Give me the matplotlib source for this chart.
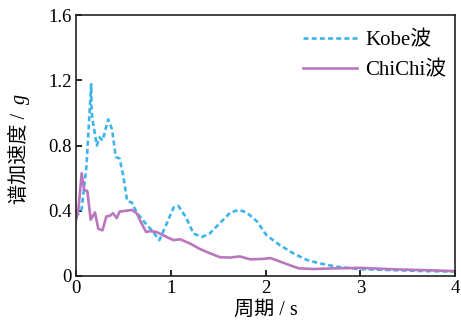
import matplotlib
matplotlib.use('Agg')
import matplotlib.pyplot as plt

plt.rcParams['font.family'] = ['Liberation Serif', 'Noto Sans CJK SC']
plt.rcParams['font.size'] = 13.5

# Kobe wave spectrum (period s, accel g)
kobe_t = [0.0, 0.06, 0.11, 0.16, 0.165, 0.18, 0.22, 0.25, 0.28, 0.34, 0.38, 0.42,
          0.46, 0.50, 0.54, 0.59, 0.64, 0.73, 0.80, 0.88, 0.96, 1.03, 1.08, 1.16,
          1.24, 1.33, 1.41, 1.52, 1.63, 1.72, 1.80, 1.91, 2.01, 2.15, 2.29, 2.43,
          2.55, 2.75, 3.0, 3.4, 3.7, 4.0]
kobe_a = [0.36, 0.41, 0.67, 1.175, 1.0, 0.94, 0.80, 0.85, 0.83, 0.96, 0.90, 0.73,
          0.72, 0.61, 0.46, 0.45, 0.39, 0.325, 0.28, 0.22, 0.325, 0.42, 0.43, 0.36,
          0.26, 0.24, 0.26, 0.325, 0.39, 0.405, 0.39, 0.335, 0.25, 0.19, 0.14, 0.10,
          0.08, 0.057, 0.042, 0.035, 0.03, 0.027]

# ChiChi wave spectrum
chichi_t = [0.0, 0.025, 0.06, 0.085, 0.12, 0.155, 0.20, 0.235, 0.28, 0.32, 0.36,
            0.39, 0.43, 0.46, 0.53, 0.59, 0.64, 0.69, 0.74, 0.78, 0.85, 0.92, 0.99,
            1.03, 1.10, 1.20, 1.31, 1.41, 1.52, 1.63, 1.73, 1.84, 1.98, 2.05, 2.10,
            2.22, 2.35, 2.50, 2.75, 3.0, 3.4, 3.74, 4.0]
chichi_a = [0.345, 0.405, 0.63, 0.53, 0.52, 0.345, 0.39, 0.29, 0.28, 0.365, 0.37,
            0.385, 0.355, 0.395, 0.40, 0.405, 0.385, 0.325, 0.27, 0.275, 0.27, 0.25,
            0.23, 0.22, 0.225, 0.20, 0.165, 0.14, 0.115, 0.113, 0.12, 0.102, 0.105,
            0.11, 0.10, 0.074, 0.047, 0.043, 0.047, 0.05, 0.04, 0.035, 0.03]

fig = plt.figure(figsize=(4.61, 3.24), dpi=100)
ax = fig.add_axes([76/461, 48/324, 379/461, 261/324])

ax.plot(kobe_t, kobe_a, color='#3db5e9', lw=1.9, ls=(0, (1.9, 1.2)), label='Kobe波')
ax.plot(chichi_t, chichi_a, color='#b877be', lw=1.9, label='ChiChi波')

ax.set_xlim(0, 4)
ax.set_ylim(0, 1.6)
ax.set_xticks([0, 1, 2, 3, 4])
ax.set_yticks([0, 0.4, 0.8, 1.2, 1.6])
ax.set_xticklabels(['0', '1', '2', '3', '4'])
ax.set_yticklabels(['0', '0.4', '0.8', '1.2', '1.6'])
ax.tick_params(direction='in', length=4, width=1.2, pad=3)
for s in ax.spines.values():
    s.set_linewidth(1.2)
    s.set_color('#222222')

ax.set_xlabel('周期 / s', fontsize=14.5, labelpad=3)
# y label: Chinese text plus italic g (reads bottom to top)
fig.text(20/461, 1 - 204/324, '谱加速度 /', rotation=90, ha='center', va='bottom',
         fontsize=14.5)
fig.text(20/461, 1 - 104/324, 'g', rotation=90, ha='center', va='bottom',
         style='italic', fontsize=14.5)

ax.legend(loc='upper right', bbox_to_anchor=(1.0, 1 - 7/261), frameon=False,
          fontsize=15, handlelength=2.6, handletextpad=0.4,
          borderaxespad=0, labelspacing=0.5)

fig.savefig('out.png', dpi=100)
